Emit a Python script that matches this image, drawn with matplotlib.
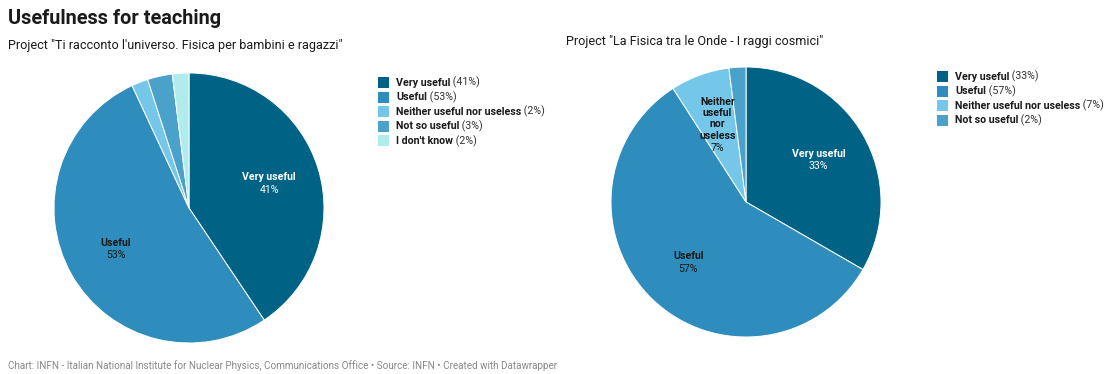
import matplotlib
matplotlib.use("Agg")
import matplotlib.pyplot as plt
import numpy as np
from matplotlib.patches import Rectangle

plt.rcParams['font.family'] = ['Roboto', 'DejaVu Sans']

W, H = 1111, 374

title = "Usefulness for teaching"
footer = ("Chart: INFN - Italian National Institute for Nuclear Physics, Communications Office"
          " \u2022 Source: INFN \u2022 Created with Datawrapper")

sub_left = 'Project "Ti racconto l\'universo. Fisica per bambini e ragazzi"'
cats_left = ["Very useful", "Useful", "Neither useful nor useless", "Not so useful", "I don't know"]
vals_left = [41, 53, 2, 3, 2]
cols_left = ["#006386", "#2e8dbc", "#74c7e9", "#4aa1c9", "#b1ecec"]

sub_right = 'Project "La Fisica tra le Onde - I raggi cosmici"'
cats_right = ["Very useful", "Useful", "Neither useful nor useless", "Not so useful"]
vals_right = [33, 57, 7, 2]
cols_right = ["#006386", "#2e8dbc", "#74c7e9", "#4aa1c9"]
# labels drawn inside the big slices
inner_left = ["Very useful", "Useful", None, None, None]
inner_right = ["Very useful", "Useful", "Neither\nuseful\nnor\nuseless", None]
txtcol_left = ["white", "#1a1a1a", None, None, None]
txtcol_right = ["white", "#1a1a1a", "#1a1a1a", None]

fig = plt.figure(figsize=(W / 100, H / 100), dpi=100)


def px_axes(cx, cy, r):
    return fig.add_axes([(cx - r) / W, 1 - (cy + r) / H, 2 * r / W, 2 * r / H])


def draw_pie(cx, cy, r, vals, cols, inner, tcols):
    ax = px_axes(cx, cy, r)
    wedges, _ = ax.pie(vals, colors=cols, startangle=90, counterclock=False,
                       radius=1, wedgeprops=dict(edgecolor="white", linewidth=0.7))
    ax.set_xlim(-1, 1)
    ax.set_ylim(-1, 1)
    ax.set_aspect("equal")
    ax.axis("off")
    for w, v, name, tc in zip(wedges, vals, inner, tcols):
        if name is None:
            continue
        ang = np.deg2rad((w.theta1 + w.theta2) / 2)
        x, y = 0.62 * np.cos(ang), 0.62 * np.sin(ang)
        n = name.count("\n") + 1
        off = (1 - n) * 9 / 2
        ax.annotate(name, (x, y), xytext=(0, off + 0.9), textcoords="offset points",
                    ha="center", va="bottom", fontsize=7.6, fontweight="bold",
                    color=tc, linespacing=1.18)
        ax.annotate("%d%%" % v, (x, y), xytext=(0, off - 0.9),
                    textcoords="offset points", ha="center", va="top",
                    fontsize=7.6, color=tc)
    return ax


def draw_legend(x0, y0, cats, vals, cols, step=14.6, size=11):
    for i, (c, v, col) in enumerate(zip(cats, vals, cols)):
        y = y0 + i * step
        fig.add_artist(Rectangle((x0 / W, 1 - (y + size) / H), size / W, size / H,
                                 transform=fig.transFigure, facecolor=col, edgecolor="none"))
        t = fig.text((x0 + size + 7) / W, 1 - (y + size / 2) / H, c, fontsize=7.7,
                     fontweight="bold", color="#1a1a1a", va="center", ha="left")
        plt.annotate(" (%d%%)" % v, xy=(1, 0.5), xycoords=t, va="center", ha="left",
                     fontsize=7.7, color="#333333")


fig.text(8 / W, 1 - 19 / H, title, fontsize=14.3, fontweight="bold", color="#1a1a1a",
         va="center", ha="left")
fig.text(8 / W, 1 - 46 / H, sub_left, fontsize=9.1, color="#1a1a1a", va="center", ha="left")
fig.text(566 / W, 1 - 42 / H, sub_right, fontsize=9.1, color="#1a1a1a", va="center", ha="left")
fig.text(8 / W, 1 - 366 / H, footer, fontsize=7.1, color="#888888", va="center", ha="left")

draw_pie(189, 208, 135, vals_left, cols_left, inner_left, txtcol_left)
draw_pie(746, 202, 135, vals_right, cols_right, inner_right, txtcol_right)

draw_legend(378, 77, cats_left, vals_left, cols_left)
draw_legend(937, 71, cats_right, vals_right, cols_right)

fig.savefig("out.png", dpi=100, facecolor="white")
